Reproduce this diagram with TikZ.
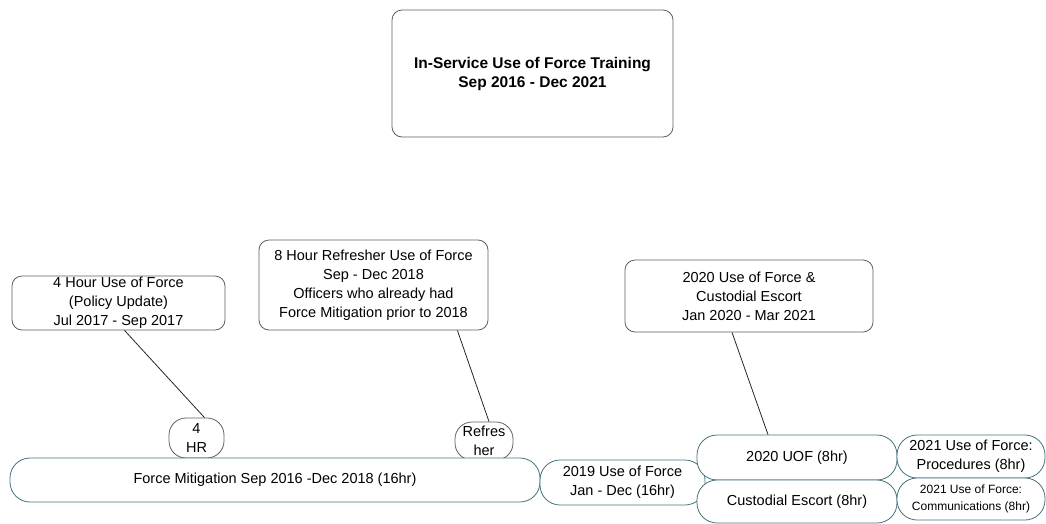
\documentclass[tikz,border=0pt]{standalone}
\usepackage{fontspec}
\setmainfont{Liberation Sans}
\usetikzlibrary{positioning}
\definecolor{boxline}{RGB}{95,95,95}
\definecolor{tealline}{RGB}{70,115,125}

\begin{document}
\begin{tikzpicture}[
    x=1pt, y=-1pt,
    font=\fontsize{14.5}{19}\selectfont,
    box/.style={rectangle, draw=boxline, line width=0.8pt, rounded corners=10pt, align=center, inner sep=0pt, fill=white},
    pill/.style={box, draw=tealline, rounded corners=20pt},
    tag/.style={box, rounded corners=17pt},
    link/.style={draw=black!85, line width=0.8pt}
]
    \useasboundingbox (0,0) rectangle (1046,523);

    % --- Title ---
    \node[box, minimum width=281pt, minimum height=127pt, font=\fontsize{15.5}{19}\selectfont\bfseries] (title) at (532.5,73.5)
        {In-Service Use of Force Training\\Sep 2016 - Dec 2021};

    % --- Callouts ---
    \node[box, minimum width=213pt, minimum height=54pt] (upd4) at (118.5,303)
        {4 Hour Use of Force\\(Policy Update)\\Jul 2017 - Sep 2017};
    \node[box, minimum width=229pt, minimum height=90pt] (ref8) at (373.5,285)
        {8 Hour Refresher Use of Force\\Sep - Dec 2018\\Officers who already had\\Force Mitigation prior to 2018};
    \node[box, minimum width=248pt, minimum height=72pt] (esc20) at (749,296)
        {2020 Use of Force \&\\Custodial Escort\\Jan 2020 - Mar 2021};

    % --- Timeline ---
    \node[tag, minimum width=55pt, minimum height=40pt] (hr4) at (196.5,438) {4\\HR};
    \node[tag, minimum width=58pt, minimum height=38pt] (refr) at (484,441) {Refres\\her};

    \node[pill, minimum width=530pt, minimum height=44pt] (fm) at (275,480)
        {Force Mitigation Sep 2016 -Dec 2018 (16hr)};
    \node[pill, minimum width=165pt, minimum height=45pt] (y2019) at (622.5,482.5)
        {2019 Use of Force\\Jan - Dec (16hr)};
    \node[pill, minimum width=200pt, minimum height=45pt] (uof20) at (797,457.5) {2020 UOF (8hr)};
    \node[pill, minimum width=200pt, minimum height=43pt] (cust) at (797,501.5) {Custodial Escort (8hr)};
    \node[pill, minimum width=148pt, minimum height=43pt] (proc21) at (971,456.5)
        {2021 Use of Force:\\Procedures (8hr)};
    \node[pill, minimum width=148pt, minimum height=42pt, font=\fontsize{12}{17}\selectfont] (comm21) at (971,499)
        {2021 Use of Force:\\Communications (8hr)};

    % Connectors
    \draw[link] ([xshift=6pt]upd4.south) -- ([xshift=8pt]hr4.north);
    \draw[link] ([xshift=-31pt]ref8.south east) -- ([xshift=5pt]refr.north);
    \draw[link] ([xshift=-17pt]esc20.south) -- ([xshift=-29pt]uof20.north);

\end{tikzpicture}
\end{document}
